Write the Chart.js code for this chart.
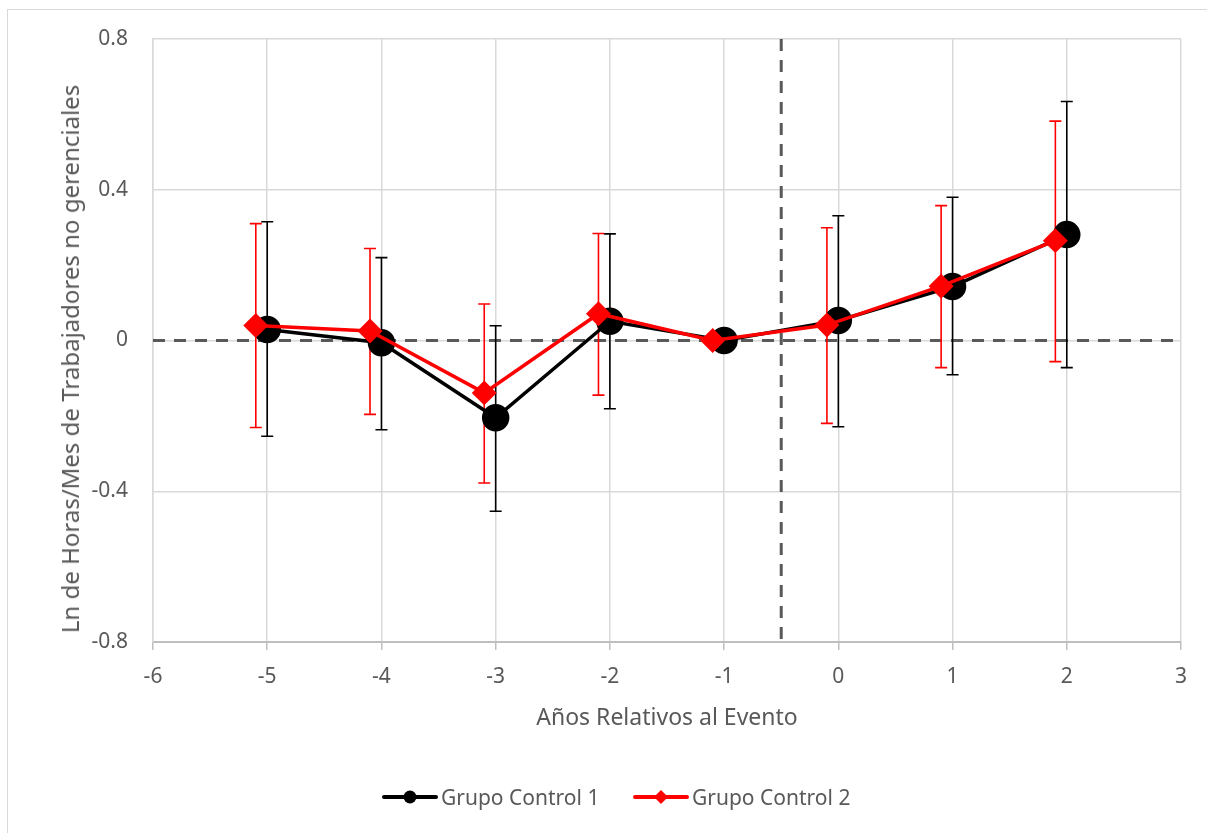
<!DOCTYPE html>
<html lang="es">
<head>
<meta charset="utf-8">
<title>Ln de Horas/Mes de Trabajadores no gerenciales</title>
<script src="https://cdn.jsdelivr.net/npm/chart.js@4.4.1/dist/chart.umd.min.js"></script>
<style>
  html, body { margin: 0; padding: 0; background: #fff; }
  body { width: 1207px; height: 833px; position: relative; overflow: hidden; font-family: "Noto Sans", sans-serif; }
  #marco { position: absolute; left: 7px; top: 9px; width: 1210px; height: 830px; border: 1px solid #d9d9d9; box-sizing: border-box; }
  #wrap { position: absolute; left: 0; top: 0; width: 1207px; height: 833px; }
  #tituloY { position: absolute; left: 70px; top: 359px; transform: translate(-50%, -50%) rotate(-90deg); white-space: nowrap; color: #595959; font-size: 24px; line-height: 1; }
  #leyenda { position: absolute; top: 783px; left: 0; width: 1207px; height: 28px; color: #595959; font-size: 21px; }
  .item { position: absolute; top: 0; display: flex; align-items: center; height: 28px; }
  .item svg { margin-right: 3px; }
</style>
</head>
<body>
<div id="marco"></div>
<div id="wrap"><canvas id="grafico" width="1207" height="833"></canvas></div>
<div id="tituloY">Ln de Horas/Mes de Trabajadores no gerenciales</div>
<div id="leyenda">
  <div class="item" style="left:382px">
    <svg width="56" height="20"><line x1="2" y1="10" x2="54" y2="10" stroke="#000" stroke-width="4" stroke-linecap="round"/><circle cx="28" cy="10" r="6.5" fill="#000"/></svg>
    <span>Grupo Control 1</span>
  </div>
  <div class="item" style="left:633px">
    <svg width="56" height="20"><line x1="2" y1="10" x2="54" y2="10" stroke="#ff0000" stroke-width="4" stroke-linecap="round"/><polygon points="28,3 35,10 28,17 21,10" fill="#ff0000"/></svg>
    <span>Grupo Control 2</span>
  </div>
</div>
<script>
// Datos
const anios1 = [-5, -4, -3, -2, -1, 0, 1, 2];
const anios2 = [-5.1, -4.1, -3.1, -2.1, -1.1, -0.1, 0.9, 1.9];
const grupo1 = [0.029, -0.006, -0.205, 0.051, 0, 0.053, 0.143, 0.281];
const grupo1Sup = [0.315, 0.220, 0.039, 0.283, 0, 0.331, 0.380, 0.634];
const grupo1Inf = [-0.254, -0.237, -0.453, -0.181, 0, -0.229, -0.091, -0.072];
const grupo2 = [0.040, 0.025, -0.139, 0.071, 0, 0.041, 0.144, 0.265];
const grupo2Sup = [0.310, 0.244, 0.097, 0.284, 0, 0.299, 0.358, 0.582];
const grupo2Inf = [-0.231, -0.196, -0.378, -0.145, 0, -0.220, -0.072, -0.056];
const yTicks = [-0.8, -0.4, 0, 0.4, 0.8];
const evento = -0.5;

const gris = '#595959';

function puntos(xs, ys, sup, inf) {
    return xs.map((x, i) => ({ x: x, y: ys[i], sup: sup[i], inf: inf[i] }));
}

// Líneas punteadas de referencia y barras de error
const extras = {
    id: 'extras',
    beforeDatasetsDraw(chart) {
        const { ctx, chartArea, scales } = chart;
        const sx = scales.x, sy = scales.y;
        ctx.save();
        ctx.strokeStyle = gris;
        ctx.lineWidth = 3;
        ctx.setLineDash([12, 9]);
        const y0 = sy.getPixelForValue(0);
        ctx.beginPath();
        ctx.moveTo(chartArea.left, y0);
        ctx.lineTo(chartArea.right, y0);
        ctx.stroke();
        const xe = sx.getPixelForValue(evento);
        ctx.beginPath();
        ctx.moveTo(xe, chartArea.top);
        ctx.lineTo(xe, chartArea.bottom);
        ctx.stroke();
        ctx.setLineDash([]);

        chart.data.datasets.forEach(ds => {
            ctx.strokeStyle = ds.borderColor;
            ctx.lineWidth = 1.6;
            ds.data.forEach(p => {
                if (p.sup === p.inf) return;
                const x = sx.getPixelForValue(p.x);
                const yt = sy.getPixelForValue(p.sup);
                const yb = sy.getPixelForValue(p.inf);
                ctx.beginPath();
                ctx.moveTo(x, yt); ctx.lineTo(x, yb);
                ctx.moveTo(x - 6, yt); ctx.lineTo(x + 6, yt);
                ctx.moveTo(x - 6, yb); ctx.lineTo(x + 6, yb);
                ctx.stroke();
            });
        });
        ctx.restore();
    }
};

new Chart(document.getElementById('grafico'), {
    type: 'scatter',
    data: {
        datasets: [
            {
                label: 'Grupo Control 1',
                data: puntos(anios1, grupo1, grupo1Sup, grupo1Inf),
                showLine: true,
                borderColor: '#000000',
                backgroundColor: '#000000',
                borderWidth: 3.5,
                pointStyle: 'circle',
                pointRadius: 12,
                pointHoverRadius: 12,
                order: 2
            },
            {
                label: 'Grupo Control 2',
                data: puntos(anios2, grupo2, grupo2Sup, grupo2Inf),
                showLine: true,
                borderColor: '#ff0000',
                backgroundColor: '#ff0000',
                borderWidth: 3.5,
                pointStyle: 'rectRot',
                pointRadius: 10,
                pointHoverRadius: 10,
                order: 1
            }
        ]
    },
    options: {
        responsive: false,
        animation: false,
        layout: { padding: { left: 58, right: 26, top: 39, bottom: 97 } },
        plugins: {
            legend: { display: false },
            tooltip: { enabled: false }
        },
        scales: {
            x: {
                type: 'linear',
                min: -6,
                max: 3,
                afterFit: s => { s.height = 94; },
                ticks: { stepSize: 1, color: gris, font: { size: 21, family: 'Noto Sans' }, padding: 14 },
                grid: { color: '#d9d9d9', lineWidth: 1.5, tickLength: 8, tickColor: '#bfbfbf' },
                border: { color: '#bfbfbf', width: 2 },
                title: {
                    display: true,
                    text: 'Años Relativos al Evento',
                    color: gris,
                    font: { size: 23, family: 'Noto Sans' },
                    padding: { top: 4, bottom: 4 }
                }
            },
            y: {
                min: -0.8,
                max: 0.8,
                afterFit: s => { s.width = 95; },
                afterBuildTicks: s => { s.ticks = yTicks.map(v => ({ value: v })); },
                ticks: {
                    color: gris,
                    font: { size: 21, family: 'Noto Sans' },
                    padding: 25,
                    callback: v => String(Math.round(v * 10) / 10)
                },
                grid: { color: '#d9d9d9', lineWidth: 1.5, drawTicks: false },
                border: { color: '#d9d9d9', width: 1.5 },
                title: { display: false }
            }
        }
    },
    plugins: [extras]
});
</script>
</body>
</html>
